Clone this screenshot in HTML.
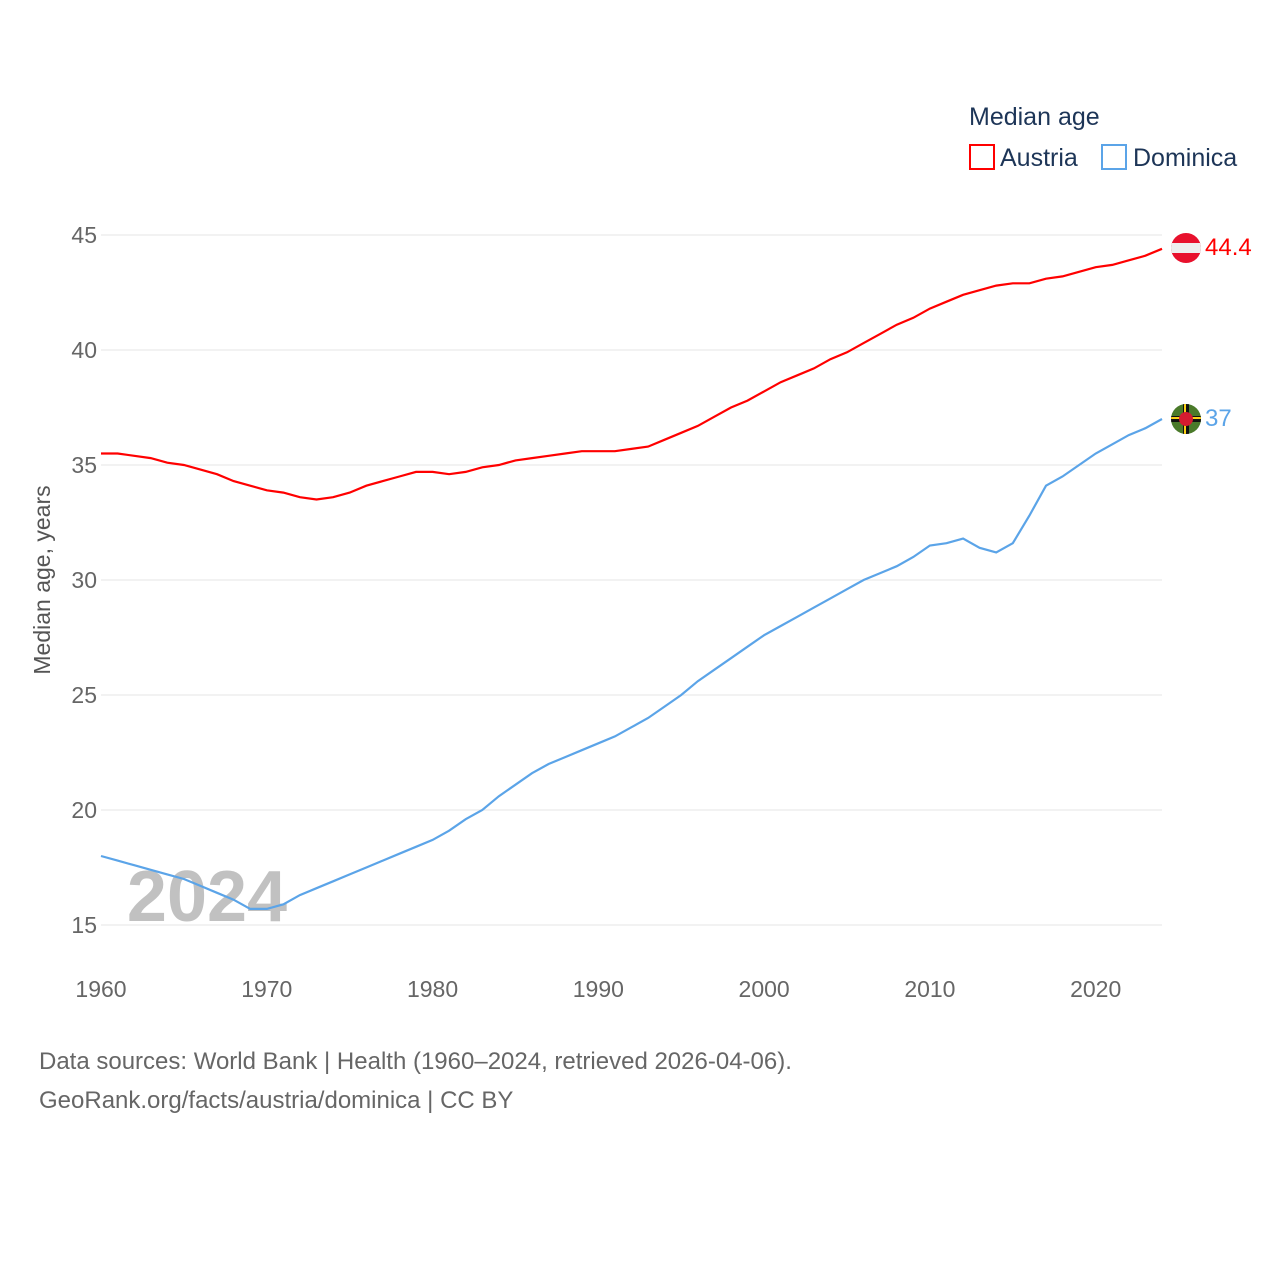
<!DOCTYPE html>
<html><head><meta charset="utf-8"><style>
body{margin:0;background:#fff;font-family:"Liberation Sans",sans-serif}
svg text{font-family:"Liberation Sans",sans-serif}
</style></head><body>
<svg id="c" width="1280" height="1280" xmlns="http://www.w3.org/2000/svg">
<text x="969" y="125" font-size="25" fill="#1d3557">Median age</text>
<g><rect x="970" y="145" width="24" height="24" fill="none" stroke="#f00" stroke-width="2"/><text x="1000" y="166" font-size="25" fill="#1d3557">Austria</text></g>
<g><rect x="1102" y="145" width="24" height="24" fill="none" stroke="#5ba4e8" stroke-width="2"/><text x="1133" y="166" font-size="25" fill="#1d3557">Dominica</text></g>
<g id="grid"></g>
<text x="207" y="921" font-size="72" font-weight="bold" fill="#bbb" text-anchor="middle" opacity="0.9">2024</text>
<g id="lines"></g>
<text transform="translate(50,580) rotate(-90)" font-size="23" fill="#555" text-anchor="middle">Median age, years</text>
<text x="39" y="1069" font-size="24" fill="#666">Data sources: World Bank | Health (1960–2024, retrieved 2026-04-06).</text>
<text x="39" y="1108" font-size="24" fill="#666">GeoRank.org/facts/austria/dominica | CC BY</text>
<g><clipPath id="ca"><circle cx="1186" cy="248" r="15"/></clipPath><g clip-path="url(#ca)"><rect x="1171" y="233" width="30" height="30" fill="#e8112d"/><rect x="1171" y="243" width="30" height="10" fill="#eee"/></g></g>
<g><clipPath id="cd"><circle cx="1186" cy="419" r="15"/></clipPath><g clip-path="url(#cd)"><rect x="1171" y="404" width="30" height="30" fill="#4a7a2a"/><rect x="1183" y="404" width="6" height="30" fill="#111"/><rect x="1171" y="416" width="30" height="6" fill="#111"/><rect x="1184" y="404" width="2" height="30" fill="#fcd116"/><rect x="1171" y="417" width="30" height="2" fill="#fcd116"/><circle cx="1186" cy="419" r="7" fill="#d41c30"/></g></g>
<text x="1205" y="255" font-size="24" fill="#f00">44.4</text>
<text x="1205" y="426" font-size="24" fill="#5ba4e8">37</text>
</svg>
<script>
const years=[];for(let y=1960;y<=2024;y++)years.push(y);
const austria=[35.5,35.5,35.4,35.3,35.1,35.0,34.8,34.6,34.3,34.1,33.9,33.8,33.6,33.5,33.6,33.8,34.1,34.3,34.5,34.7,34.7,34.6,34.7,34.9,35.0,35.2,35.3,35.4,35.5,35.6,35.6,35.6,35.7,35.8,36.1,36.4,36.7,37.1,37.5,37.8,38.2,38.6,38.9,39.2,39.6,39.9,40.3,40.7,41.1,41.4,41.8,42.1,42.4,42.6,42.8,42.9,42.9,43.1,43.2,43.4,43.6,43.7,43.9,44.1,44.4];
const dominica=[18.0,17.8,17.6,17.4,17.2,17.0,16.7,16.4,16.1,15.7,15.7,15.9,16.3,16.6,16.9,17.2,17.5,17.8,18.1,18.4,18.7,19.1,19.6,20.0,20.6,21.1,21.6,22.0,22.3,22.6,22.9,23.2,23.6,24.0,24.5,25.0,25.6,26.1,26.6,27.1,27.6,28.0,28.4,28.8,29.2,29.6,30.0,30.3,30.6,31.0,31.5,31.6,31.8,31.4,31.2,31.6,32.8,34.1,34.5,35.0,35.5,35.9,36.3,36.6,37.0];
const yTicks=[15,20,25,30,35,40,45];
const xTicks=[1960,1970,1980,1990,2000,2010,2020];
const X=y=>101+(y-1960)*(1162-101)/64;
const Y=v=>235+(45-v)*23;
const NS="http://www.w3.org/2000/svg";
const grid=document.getElementById('grid'),lines=document.getElementById('lines');
function mk(tag,attrs,parent,txt){const e=document.createElementNS(NS,tag);for(const k in attrs)e.setAttribute(k,attrs[k]);if(txt!==undefined)e.textContent=txt;parent.appendChild(e);return e;}
yTicks.forEach(t=>{
 const l=mk('line',{x1:101,x2:1162,y1:Y(t),y2:Y(t),stroke:'#e6e6e6'},grid);
 
 
 const tx=mk('text',{x:97,y:Y(t)+8,'font-size':23,fill:'#666','text-anchor':'end'},grid,t);
 
 
});
xTicks.forEach(t=>{
 const tx=mk('text',{x:X(t),y:997,'font-size':23,fill:'#666','text-anchor':'middle'},grid,t);
 
 
});
function line(data,color,name){
 const p=mk('path',{d:data.map((v,i)=>(i?'L':'M')+X(years[i]).toFixed(1)+','+Y(v).toFixed(1)).join(''),fill:'none',stroke:color,'stroke-width':2.2},lines);
 
 
}
line(austria,'#f00','austria-line');
line(dominica,'#5ba4e8','dominica-line');
</script>
</body></html>
